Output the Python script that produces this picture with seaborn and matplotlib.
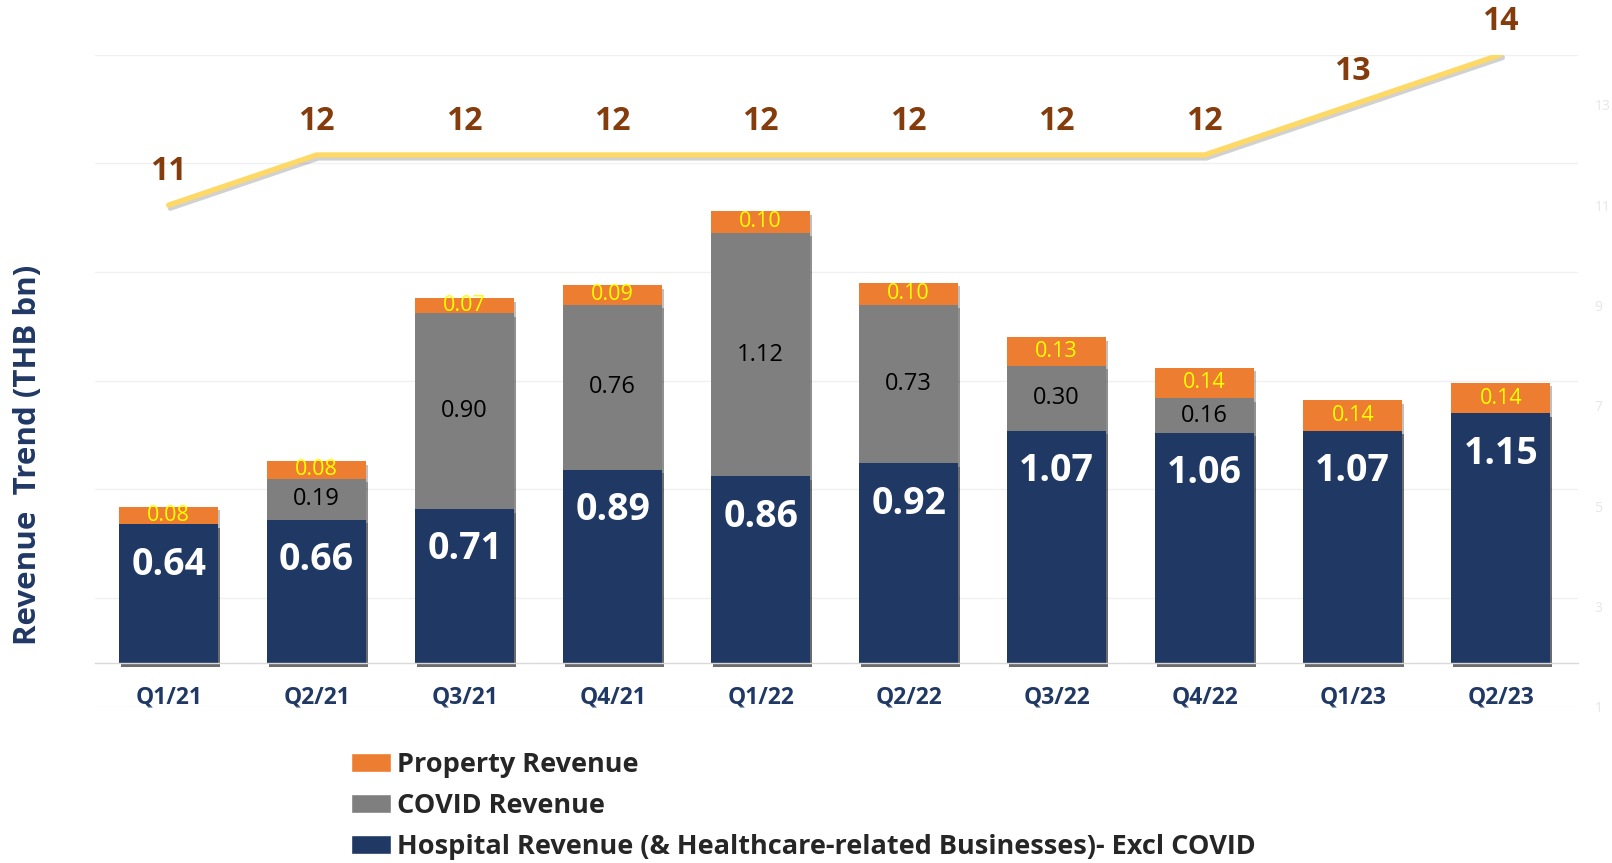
import matplotlib
matplotlib.use("Agg")
import matplotlib.pyplot as plt
import matplotlib.patheffects as pe
from matplotlib.patches import Patch
import numpy as np
import pandas as pd
import seaborn as sns

# data
quarters = ['Q1/21', 'Q2/21', 'Q3/21', 'Q4/21', 'Q1/22', 'Q2/22', 'Q3/22', 'Q4/22', 'Q1/23', 'Q2/23']
hospital = [0.64, 0.66, 0.71, 0.89, 0.86, 0.92, 1.07, 1.06, 1.07, 1.15]
covid = [0.00, 0.19, 0.90, 0.76, 1.12, 0.73, 0.30, 0.16, 0.00, 0.00]
prop = [0.08, 0.08, 0.07, 0.09, 0.10, 0.10, 0.13, 0.14, 0.14, 0.14]
trend = [11, 12, 12, 12, 12, 12, 12, 12, 13, 14]
right_ticks = [1, 3, 5, 7, 9, 11, 13]

NAVY = '#203864'
GREY = '#7F7F7F'
ORANGE = '#ED7D31'
GOLD = '#FFD966'
BROWN = '#843C0C'

sns.set_theme(style='white')
plt.rcParams['font.family'] = ['Open Sans', 'DejaVu Sans']

df = pd.DataFrame({'quarter': quarters, 'hospital': hospital, 'covid': covid, 'prop': prop})
df['h_c'] = df['hospital'] + df['covid']
df['total'] = df['h_c'] + df['prop']

fig = plt.figure(figsize=(16.12, 8.63), dpi=100)
ax = fig.add_axes([0.0587, 0.1808, 0.9200, 0.7560])

shadow = [pe.SimplePatchShadow(offset=(1.5, -2.5), shadow_rgbFace='black', alpha=0.25), pe.Normal()]

# stacked bars drawn as overlapping cumulative bars
for col, colour in [('total', ORANGE), ('h_c', GREY), ('hospital', NAVY)]:
    sns.barplot(data=df, x='quarter', y=col, color=colour, saturation=1, width=0.67, ax=ax)
for p in ax.patches:
    p.set_path_effects(shadow)
    p.set_edgecolor('none')

ax.set_xlim(-0.5, 9.52)
ax.set_ylim(-0.2, 2.8)
ax.set_yticks(np.arange(-0.2, 2.81, 0.5))
ax.yaxis.grid(True, color='#F0F0F0', linewidth=1)
ax.set_yticklabels([])
ax.tick_params(axis='y', length=0)
ax.set_xlabel('')
ax.set_ylabel('')
for s in ['top', 'right', 'left']:
    ax.spines[s].set_visible(False)
ax.spines['bottom'].set_position(('data', 0))
ax.spines['bottom'].set_color('#D9D9D9')
ax.spines['bottom'].set_linewidth(1)
ax.tick_params(axis='x', length=0, pad=16)
for lbl in ax.get_xticklabels():
    lbl.set_fontsize(16.5)
    lbl.set_fontweight('bold')
    lbl.set_color(NAVY)

# bar labels
for i in range(len(quarters)):
    ax.annotate(f'{hospital[i]:.2f}', (i, hospital[i]), xytext=(0, -29), textcoords='offset points',
                ha='center', va='center', color='white', fontsize=27, fontweight='bold')
    if covid[i] > 0:
        ax.text(i, hospital[i] + covid[i] / 2, f'{covid[i]:.2f}', ha='center', va='center',
                color='black', fontsize=17)
    ax.text(i, hospital[i] + covid[i] + prop[i] / 2, f'{prop[i]:.2f}', ha='center', va='center',
            color='#FFFF00', fontsize=15.5)

# trend line on the secondary axis
ax2 = ax.twinx()
sns.lineplot(x=np.arange(len(trend)), y=trend, color=GOLD, linewidth=3.8, ax=ax2,
             path_effects=[pe.SimpleLineShadow(offset=(1.2, -2.2), alpha=0.2), pe.Normal()])
ax2.set_ylim(1, 14)
ax2.set_yticks(right_ticks)
ax2.set_yticklabels([str(t) for t in right_ticks], fontsize=10, color='#E6E6E6')
ax2.tick_params(axis='y', length=0, pad=12)
for s in ax2.spines.values():
    s.set_visible(False)
ax2.grid(False)
for i, v in enumerate(trend):
    ax2.annotate(str(v), (i, v), xytext=(0, 24), textcoords='offset points', ha='center', va='center',
                 color=BROWN, fontsize=23, fontweight='bold', annotation_clip=False)

fig.text(28 / 1612, 1 - 455 / 863, 'Revenue  Trend (THB bn)', rotation=90, ha='center', va='center',
         fontsize=22.5, fontweight='bold', color=NAVY)

handles = [Patch(facecolor=ORANGE, label='Property Revenue'),
           Patch(facecolor=GREY, label='COVID Revenue'),
           Patch(facecolor=NAVY, label='Hospital Revenue (& Healthcare-related Businesses)- Excl COVID')]
leg = fig.legend(handles=handles, loc='upper left', bbox_to_anchor=(0.218, 0.1292), frameon=False,
                 borderpad=0, borderaxespad=0, handlelength=1.48, handleheight=0.7,
                 handletextpad=0.2, labelspacing=0.57, prop={'size': 19.5, 'weight': 'bold'})

fig.savefig('out.png', dpi=100)
